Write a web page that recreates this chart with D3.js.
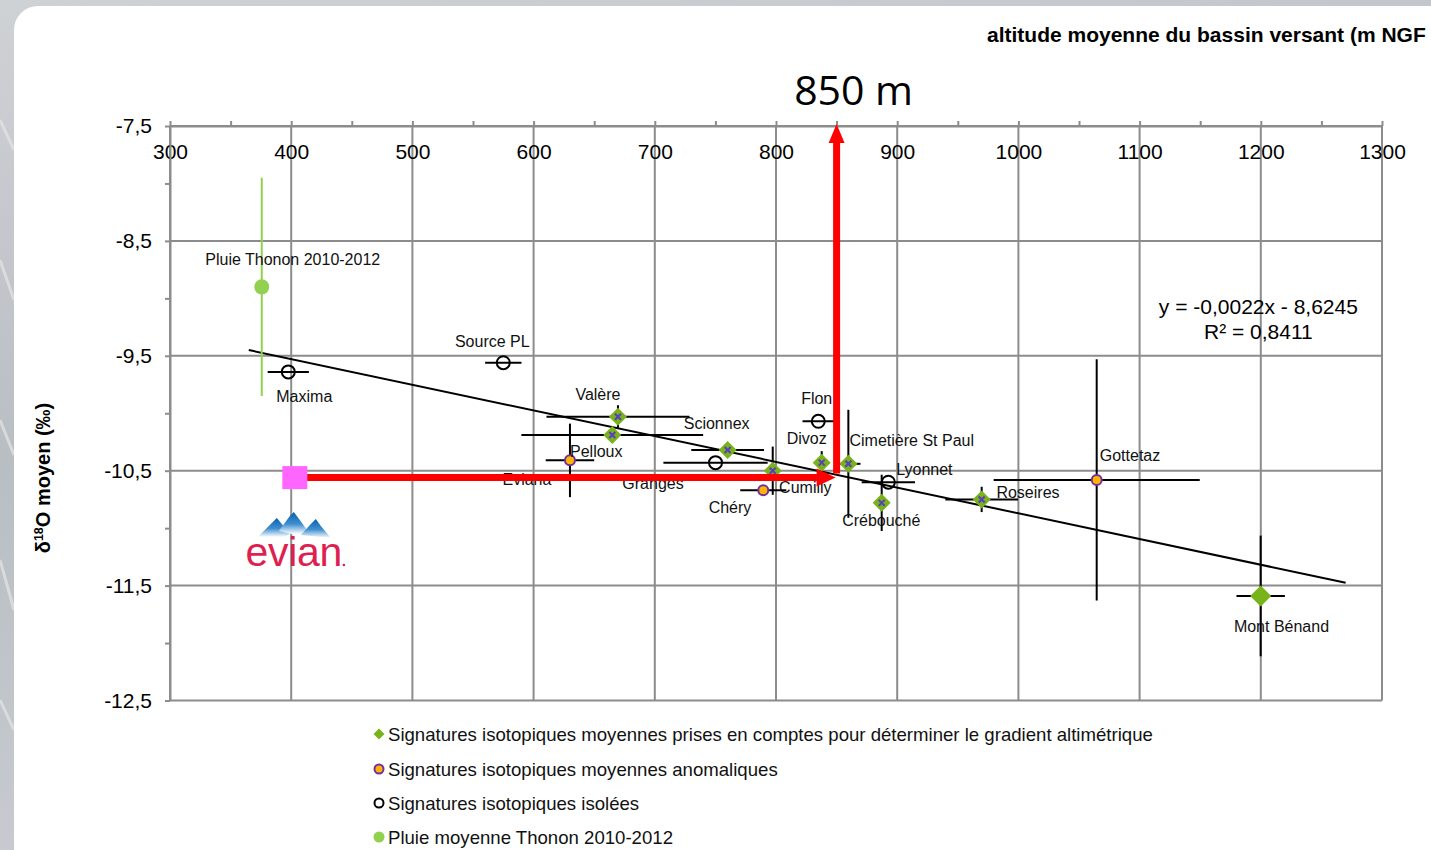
<!DOCTYPE html>
<html><head><meta charset="utf-8">
<script src="https://cdn.jsdelivr.net/npm/d3@7"></script>
<style>
body{margin:0;overflow:hidden;background:#c2c6ca}
svg{display:block}
text{font-family:"Liberation Sans",Arial,sans-serif}
</style>
</head><body>
<svg id="c" width="1431" height="850"></svg>
<script>
// ---------------- DATA ----------------
const names = ["Pluie Thonon 2010-2012","Maxima","Source PL","Valère","Pelloux","Eviana","Scionnex","Granges","Cumilly","Chéry","Flon","Divoz","Cimetière St Paul","Lyonnet","Crébouché","Roseires","Gottetaz","Mont Bénand"];
const altitude = [375.7,397.6,575.0,669.6,664.9,630.0,760.1,750.1,797.3,789.5,834.9,837.7,859.7,892.7,887.2,969.7,1064.6,1199.9];
const d18O = [-8.90,-9.64,-9.56,-10.03,-10.19,-10.41,-10.32,-10.43,-10.50,-10.67,-10.07,-10.43,-10.44,-10.60,-10.78,-10.75,-10.58,-11.59];
const altErr = [0,17,15,59,75,20,30,43,0,19,13,0,10,22,0,30,85,20];
const d18OErr = [0.95,0,0,0.10,0,0.32,0,0,0.21,0,0,0.10,0.47,0,0.245,0.11,1.05,0.525];
const group = ["pluie","isolee","isolee","gradient","gradient","anomalie","gradient","isolee","gradient","anomalie","isolee","gradient","gradient","isolee","gradient","gradient","anomalie","gradient"];

const trendAlt = [365, 1270];
const trendD18O = [-9.45, -11.475];
const equationLines = ["y = -0,0022x - 8,6245", "R² = 0,8411"];

const evianAlt = 403, evianD18O = -10.56, targetAlt = 850;

const xTicks = [300,400,500,600,700,800,900,1000,1100,1200,1300];
const xMinor = [350,450,550,650,750,850,950,1050,1150,1250];
const yTicks = [-7.5,-8.5,-9.5,-10.5,-11.5,-12.5];
const yMinor = [-8,-9,-10,-11,-12];

const legendLabels = [
  "Signatures isotopiques moyennes prises en comptes pour déterminer le gradient altimétrique",
  "Signatures isotopiques moyennes anomaliques",
  "Signatures isotopiques isolées",
  "Pluie moyenne Thonon 2010-2012"
];
const legendGroups = ["gradient","anomalie","isolee","pluie"];

// ---------------- DRAWING ----------------
const svg = d3.select("#c");
const W = 1431, H = 850;
const defs = svg.append("defs");
const bg = defs.append("linearGradient").attr("id","bg").attr("x1",0).attr("y1",0).attr("x2",0.3).attr("y2",1);
bg.append("stop").attr("offset","0").attr("stop-color","#cfd2d5");
bg.append("stop").attr("offset","0.5").attr("stop-color","#b9bec3");
bg.append("stop").attr("offset","1").attr("stop-color","#c9cdd1");
const mg = defs.append("linearGradient").attr("id","mtn").attr("x1",0).attr("y1",0).attr("x2",0).attr("y2",1);
mg.append("stop").attr("offset","0").attr("stop-color","#0a5fae");
mg.append("stop").attr("offset","0.55").attr("stop-color","#3f8fd0");
mg.append("stop").attr("offset","1").attr("stop-color","#ffffff");

svg.append("rect").attr("width",W).attr("height",H).attr("fill","url(#bg)");
[[0,120,14,150],[0,260,14,300],[0,420,14,455],[0,560,14,610],[0,700,14,730]].forEach(s=>{
  svg.append("line").attr("x1",s[0]).attr("y1",s[1]).attr("x2",s[2]).attr("y2",s[3]).attr("stroke","#e4e6e8").attr("stroke-width",3).attr("opacity",0.7);
});
svg.append("rect").attr("x",14).attr("y",6).attr("width",W+40).attr("height",H+40).attr("rx",24).attr("fill","#ffffff");

const x = d3.scaleLinear().domain([300,1300]).range([170,1382]);
const y = d3.scaleLinear().domain([-7.5,-12.5]).range([126,700.5]);
const gridColor = "#8c8c8c";

// grid
const grid = svg.append("g");
grid.selectAll(".vg").data(xTicks).join("line")
  .attr("x1",d=>x(d)).attr("x2",d=>x(d)).attr("y1",y(-7.5)).attr("y2",y(-12.5))
  .attr("stroke",gridColor).attr("stroke-width",2);
grid.selectAll(".hg").data(yTicks).join("line")
  .attr("x1",x(300)).attr("x2",x(1300)).attr("y1",d=>y(d)).attr("y2",d=>y(d))
  .attr("stroke",gridColor).attr("stroke-width",2);

// axes
const gx = svg.append("g").attr("transform",`translate(0,${y(-7.5)})`)
  .call(d3.axisTop(x).tickValues(xTicks).tickSize(5).tickSizeOuter(0).tickFormat(d=>String(d)));
gx.selectAll("text").attr("y",33).attr("dy",0).attr("fill","#000").style("font-size","21px").style("font-family","'Liberation Sans',Arial,sans-serif");
const gxm = svg.append("g").attr("transform",`translate(0,${y(-7.5)})`)
  .call(d3.axisTop(x).tickValues(xMinor).tickSize(5).tickFormat(""));
gxm.select(".domain").remove();
const gy = svg.append("g").attr("transform",`translate(${x(300)},0)`)
  .call(d3.axisLeft(y).tickValues(yTicks).tickSize(5).tickSizeOuter(0).tickPadding(13).tickFormat(d=>String(d).replace(".",",")));
gy.selectAll("text").attr("fill","#000").style("font-size","21px").style("font-family","'Liberation Sans',Arial,sans-serif");
const gym = svg.append("g").attr("transform",`translate(${x(300)},0)`)
  .call(d3.axisLeft(y).tickValues(yMinor).tickSize(5).tickFormat(""));
gym.select(".domain").remove();
svg.selectAll(".domain").attr("stroke",gridColor).attr("stroke-width",2);
svg.selectAll(".tick line").attr("stroke",gridColor).attr("stroke-width",2);

// titles
svg.append("text").attr("x",987).attr("y",42).attr("font-weight","bold").attr("font-size",21).attr("fill","#000")
  .text("altitude moyenne du bassin versant (m NGF");
const yt = svg.append("text").attr("transform","translate(50,478) rotate(-90)").attr("text-anchor","middle")
  .attr("font-weight","bold").attr("font-size",20).attr("fill","#000");
yt.append("tspan").text("δ");
yt.append("tspan").attr("font-size",12.5).attr("dy",-7).text("18");
yt.append("tspan").attr("dy",7).text("O moyen (‰)");

// trend line
svg.append("line").attr("x1",x(trendAlt[0])).attr("y1",y(trendD18O[0])).attr("x2",x(trendAlt[1])).attr("y2",y(trendD18O[1]))
  .attr("stroke","#000").attr("stroke-width",2);
const eq = svg.append("text").attr("text-anchor","middle").attr("font-size",21).attr("fill","#000");
eq.append("tspan").attr("x",x(1198)).attr("y",y(-9.14)).text(equationLines[0]);
eq.append("tspan").attr("x",x(1198)).attr("y",y(-9.35)).text(equationLines[1]);

// data
const data = names.map((n,i)=>({name:n,alt:altitude[i],v:d18O[i],ex:altErr[i],ey:d18OErr[i],g:group[i]}));

// error bars
const eb = svg.append("g");
data.forEach(d=>{
  const col = d.g==="pluie" ? "#92D050" : "#000";
  if(d.ex>0) eb.append("line").attr("x1",x(d.alt-d.ex)).attr("x2",x(d.alt+d.ex)).attr("y1",y(d.v)).attr("y2",y(d.v)).attr("stroke",col).attr("stroke-width",2);
  if(d.ey>0) eb.append("line").attr("x1",x(d.alt)).attr("x2",x(d.alt)).attr("y1",y(d.v+d.ey)).attr("y2",y(d.v-d.ey)).attr("stroke",col).attr("stroke-width",2);
});

function drawMarker(g, type, cx, cy, big){
  if(type==="gradient"){
    const s = big ? 10.5 : 9;
    g.append("path").attr("d",`M${cx},${cy-s}L${cx+s},${cy}L${cx},${cy+s}L${cx-s},${cy}Z`).attr("fill","#78B31A");
    if(!big){
      g.append("path").attr("d",`M${cx-3},${cy-3}L${cx+3},${cy+3}M${cx+3},${cy-3}L${cx-3},${cy+3}`).attr("stroke","#5b3cc4").attr("stroke-width",2);
    }
  } else if(type==="anomalie"){
    g.append("circle").attr("cx",cx).attr("cy",cy).attr("r",5).attr("fill","#FFB400").attr("stroke","#7030A0").attr("stroke-width",2);
  } else if(type==="isolee"){
    g.append("circle").attr("cx",cx).attr("cy",cy).attr("r",6.5).attr("fill","none").attr("stroke","#000").attr("stroke-width",2);
  } else {
    g.append("circle").attr("cx",cx).attr("cy",cy).attr("r",7.5).attr("fill","#92D050");
  }
}
const mk = svg.append("g");
data.forEach(d=> drawMarker(mk, d.g, x(d.alt), y(d.v), d.name==="Mont Bénand"));

// labels (offset of label centre from point, in px)
const labelOffset = {
  "Pluie Thonon 2010-2012":[31,-27],"Maxima":[16,25],"Source PL":[-11,-21],"Valère":[-20,-22],
  "Pelloux":[-16,16],"Eviana":[-43,19],"Scionnex":[-11,-26.5],"Granges":[-62.5,20.7],
  "Cumilly":[32.6,16.5],"Chéry":[-33.3,16.8],"Flon":[-1.6,-23],"Divoz":[-15,-24],
  "Cimetière St Paul":[63.4,-23.6],"Lyonnet":[36,-12.7],"Crébouché":[-0.4,17.7],
  "Roseires":[46.3,-7.3],"Gottetaz":[33.3,-24.5],"Mont Bénand":[20.8,30]
};
svg.append("g").selectAll("text").data(data).join("text")
  .attr("x",d=>x(d.alt)+labelOffset[d.name][0]).attr("y",d=>y(d.v)+labelOffset[d.name][1])
  .attr("dy","0.35em").attr("text-anchor","middle").attr("font-size",16).attr("fill","#111")
  .text(d=>d.name);

// evian logo
const logo = svg.append("g").attr("transform",`translate(${x(evianAlt)},0)`);
logo.append("path").attr("d","M-37,537L-23,523L-18,518L-13,524L-5,534L-10,537Z").attr("fill","url(#mtn)");
logo.append("path").attr("d","M-16,531L-5,516L-1,512L5,520L15,534L-3,534Z").attr("fill","url(#mtn)");
logo.append("path").attr("d","M6,535L16,524L21,519L26,526L36,538Z").attr("fill","url(#mtn)");
logo.append("text").attr("x",-1).attr("y",566).attr("text-anchor","middle").attr("font-size",41).attr("fill","#DE1F50").attr("letter-spacing","-0.3").text("evian");
logo.append("circle").attr("cx",49).attr("cy",565).attr("r",1.3).attr("fill","#DE1F50");

// red arrows
const red = "#FF0000";
const ey0 = y(evianD18O), tx = x(targetAlt);
svg.append("line").attr("x1",x(evianAlt)+12).attr("x2",tx-18).attr("y1",ey0).attr("y2",ey0).attr("stroke",red).attr("stroke-width",7);
svg.append("path").attr("d",`M${tx-1},${ey0}L${tx-20},${ey0-9}L${tx-20},${ey0+9}Z`).attr("fill",red);
const ty = y(-7.5);
svg.append("line").attr("x1",tx).attr("x2",tx).attr("y1",ey0-4).attr("y2",ty+16).attr("stroke",red).attr("stroke-width",7);
svg.append("path").attr("d",`M${tx},${ty-2}L${tx-8},${ty+17}L${tx+8},${ty+17}Z`).attr("fill",red);
svg.append("rect").attr("x",x(evianAlt)-12.5).attr("y",ey0-11.5).attr("width",25).attr("height",23).attr("fill","#FF66FF");
svg.append("text").attr("x",tx+17).attr("y",105).attr("text-anchor","middle").attr("font-size",41)
  .style("font-family","'Open Sans','Liberation Sans',sans-serif").attr("fill","#000").text(targetAlt+" m");

// legend
const lg = svg.append("g");
const legY = [734,769,803,837];
legendLabels.forEach((t,i)=>{
  const g = lg.append("g");
  const cy = legY[i];
  if(legendGroups[i]==="gradient"){
    g.append("path").attr("d",`M379,${cy-5.5}L384.5,${cy}L379,${cy+5.5}L373.5,${cy}Z`).attr("fill","#78B31A");
  } else if(legendGroups[i]==="anomalie"){
    g.append("circle").attr("cx",379).attr("cy",cy).attr("r",4.5).attr("fill","#FFB400").attr("stroke","#7030A0").attr("stroke-width",2);
  } else if(legendGroups[i]==="isolee"){
    g.append("circle").attr("cx",379).attr("cy",cy).attr("r",4.5).attr("fill","none").attr("stroke","#000").attr("stroke-width",2);
  } else {
    g.append("circle").attr("cx",379).attr("cy",cy).attr("r",5.5).attr("fill","#92D050");
  }
  g.append("text").attr("x",388).attr("y",cy).attr("dy","0.35em").attr("font-size",18.6).attr("fill","#111").text(t);
});
</script>
</body></html>
